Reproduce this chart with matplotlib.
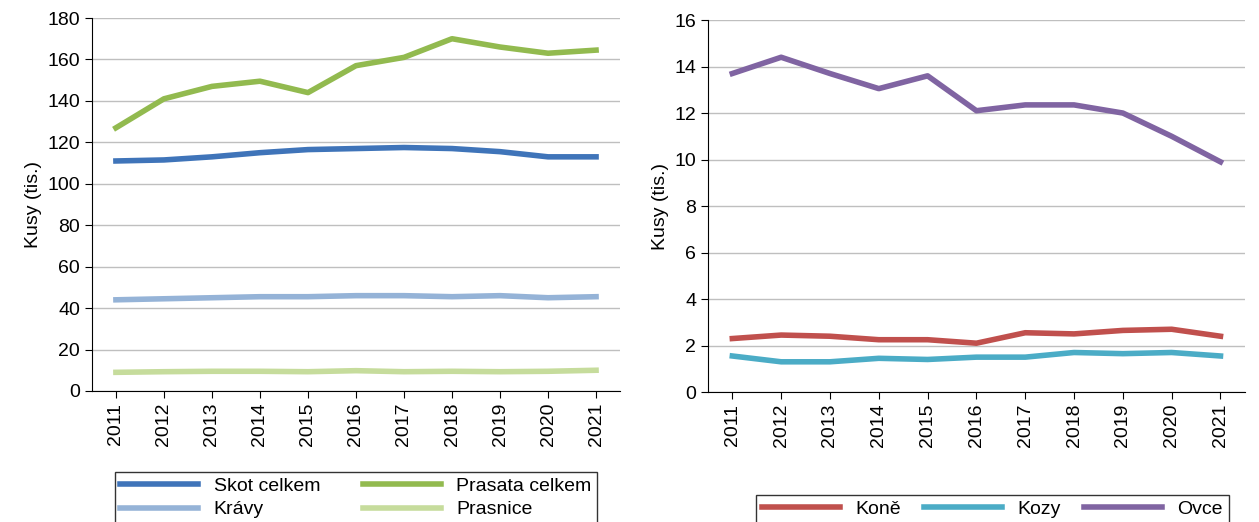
import matplotlib
matplotlib.use("Agg")
import matplotlib.pyplot as plt

roky = [str(r) for r in range(2011, 2022)]

# levý graf
skot = [111, 111.5, 113, 115, 116.5, 117, 117.5, 117, 115.5, 113, 113]
prasata = [127, 141, 147, 149.5, 144, 157, 161, 170, 166, 163, 164.5]
kravy = [44, 44.5, 45, 45.5, 45.5, 46, 46, 45.5, 46, 45, 45.5]
prasnice = [9, 9.3, 9.5, 9.5, 9.3, 9.8, 9.3, 9.5, 9.3, 9.5, 10]

# pravý graf
kone = [2.3, 2.45, 2.4, 2.25, 2.25, 2.1, 2.55, 2.5, 2.65, 2.7, 2.4]
kozy = [1.55, 1.3, 1.3, 1.45, 1.4, 1.5, 1.5, 1.7, 1.65, 1.7, 1.55]
ovce = [13.7, 14.4, 13.7, 13.05, 13.6, 12.1, 12.35, 12.35, 12.0, 11.0, 9.9]

plt.rcParams["font.family"] = ["Liberation Sans", "DejaVu Sans"]
plt.rcParams["font.size"] = 14

fig = plt.figure(figsize=(12.59, 5.22), dpi=100)
ax1 = fig.add_axes([0.073, 0.251, 0.4195, 0.7145])
ax2 = fig.add_axes([0.5623, 0.249, 0.4265, 0.7126])

def styl(ax, ymax, step):
    ax.set_ylim(0, ymax)
    ax.set_yticks(range(0, ymax + 1, step))
    ax.set_xlim(-0.5, len(roky) - 0.5)
    ax.grid(axis="y", color="#bfbfbf", lw=1)
    ax.set_axisbelow(True)
    for s in ["top", "right"]:
        ax.spines[s].set_visible(False)
    ax.tick_params(axis="x", rotation=90, length=5, labelsize=14)
    ax.tick_params(axis="y", length=5, labelsize=14)
    ax.set_ylabel("Kusy (tis.)", fontsize=14)

lw = 4
h1, = ax1.plot(roky, skot, color="#3F74B9", lw=lw, label="Skot celkem")
h2, = ax1.plot(roky, prasata, color="#92BA4F", lw=lw, label="Prasata celkem")
h3, = ax1.plot(roky, kravy, color="#95B3D7", lw=lw, label="Krávy")
h4, = ax1.plot(roky, prasnice, color="#C6DC9C", lw=lw, label="Prasnice")
styl(ax1, 180, 20)
# pořadí po řádcích: Skot, Prasata / Krávy, Prasnice
ax1.legend([h1, h3, h2, h4], [h.get_label() for h in [h1, h3, h2, h4]],
           ncol=2, loc="upper center", bbox_to_anchor=(0.5, -0.19), frameon=True,
           fancybox=False, edgecolor="black", handlelength=4, columnspacing=2.2,
           fontsize=14, borderpad=0.3, labelspacing=0.3)

ax2.plot(roky, kone, color="#C0504D", lw=lw, label="Koně")
ax2.plot(roky, kozy, color="#4BACC6", lw=lw, label="Kozy")
ax2.plot(roky, ovce, color="#8064A2", lw=lw, label="Ovce")
styl(ax2, 16, 2)
ax2.legend(ncol=3, loc="upper center", bbox_to_anchor=(0.53, -0.25), frameon=True,
           fancybox=False, edgecolor="black", handlelength=4, columnspacing=1.2,
           fontsize=14, borderpad=0.3)

fig.savefig("out.png", dpi=100)
